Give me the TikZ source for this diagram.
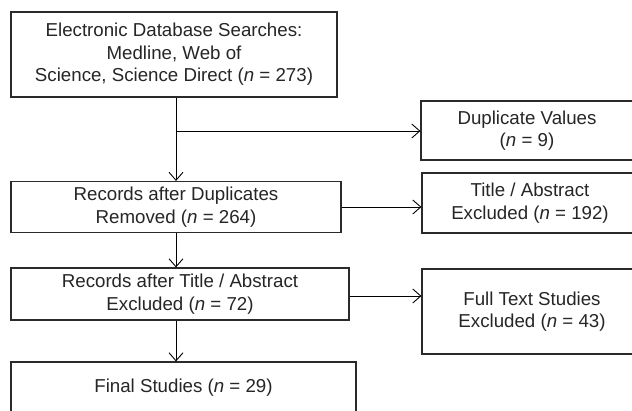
\documentclass[tikz,border=0pt]{standalone}
\usepackage{fontspec}
\setmainfont{Liberation Sans}
\usetikzlibrary{arrows.meta}
\definecolor{txt}{HTML}{262626}
\definecolor{bord}{HTML}{2A2A2A}
\begin{document}
\begin{tikzpicture}[x=1pt,y=1pt,
  boxstyle/.style={draw=bord,line width=1.1pt,fill=white,rectangle,align=center,
    text=txt,inner sep=0pt,font=\fontsize{18.7}{22.5}\selectfont},
  arr/.style={draw=black,line width=0.9pt,-{Straight Barb[length=8pt,width=14pt,line width=0.9pt]}}]
\useasboundingbox (0,0) rectangle (632,410);
\clip (0,0) rectangle (632,410);
\fill[white] (0,0) rectangle (632,410);
% main column
\node[boxstyle,minimum width=326pt,minimum height=85pt] (b1) at (174,355.5)
  {Electronic Database Searches:\\Medline, Web of\\Science, Science Direct (\textit{n} = 273)};
\node[boxstyle,minimum width=330pt,minimum height=51pt] (b2) at (176,203)
  {Records after Duplicates\\Removed (\textit{n} = 264)};
\node[boxstyle,minimum width=338pt,minimum height=52pt] (b3) at (180,116)
  {Records after Title / Abstract\\Excluded (\textit{n} = 72)};
\node[boxstyle,minimum width=345pt,minimum height=52pt] (b4) at (183.5,22)
  {Final Studies (\textit{n} = 29)};
% right column
\node[boxstyle,minimum width=212pt,minimum height=59pt] (dup) at (527,279.5)
  {Duplicate Values\\(\textit{n} = 9)};
\node[boxstyle,minimum width=216pt,minimum height=60pt] (ta) at (530,207)
  {Title / Abstract\\Excluded (\textit{n} = 192)};
\node[boxstyle,minimum width=220pt,minimum height=85pt] (ft) at (532,98.5)
  {Full Text Studies\\Excluded (\textit{n} = 43)};
% connectors
\coordinate (j1) at (176,279);
\draw[arr] (b1.south -| b2.north) -- (b2.north);
\draw[arr] (j1) -- (j1 -| dup.west);
\draw[arr] (b2.south) -- (b2.south |- b3.north);
\draw[arr] (b3.south -| b2.south) -- (b4.north -| b2.south);
\draw[arr] (b2.east) -- (b2.east -| ta.west);
\coordinate (j3) at (b3.east);
\draw[arr] ([yshift=-2pt]j3) -- ([yshift=-2pt]j3 -| ft.west);
\end{tikzpicture}
\end{document}
